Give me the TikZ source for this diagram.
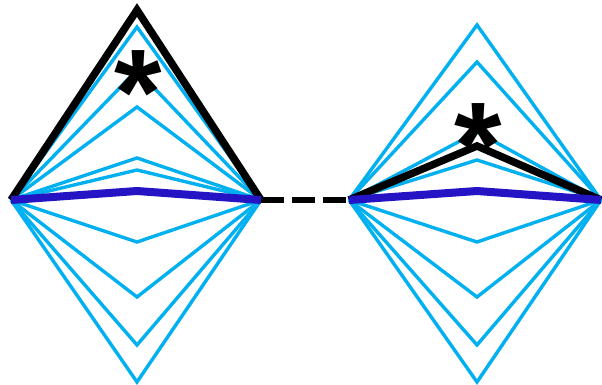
\documentclass[tikz,border=0pt]{standalone}
\usepackage{fontspec}
\setmainfont{Liberation Sans}
\definecolor{fanblue}{RGB}{0,176,240}
\definecolor{deepblue}{RGB}{36,20,196}
\begin{document}
\begin{tikzpicture}[
x=1pt, y=-1pt,
fanline/.style={draw=fanblue, line width=3.4pt},
bestline/.style={draw=black, line width=7.5pt},
flatline/.style={draw=deepblue, line width=8pt},
gapline/.style={draw=black, line width=6.5pt, dash pattern=on 23pt off 8pt},
starnode/.style={inner sep=0pt, anchor=north, font=\fontsize{122}{122}\selectfont\bfseries},
]
    \useasboundingbox (0,0) rectangle (602,385);
    \coordinate (aleft) at (11,200);
    \coordinate (aright) at (261,200);
    \coordinate (bleft) at (349,200);
    \coordinate (bright) at (601,200);
    % left fan
    \foreach \y in {27,70,107,158,170,242,297,345,382} {
        \coordinate (a\y) at (137,\y);
        \draw[fanline] (aleft) -- (a\y) -- (aright);
    }
    % right fan
    \foreach \y in {25,62,132,160,242,297,345,382} {
        \coordinate (b\y) at (477,\y);
        \draw[fanline] (bleft) -- (b\y) -- (bright);
    }
    \coordinate (atop) at (137,10);
    \coordinate (btop) at (477,146);
    \draw[bestline] (aleft) -- (atop) -- (aright);
    \draw[bestline] (bleft) -- (btop) -- (bright);
    \coordinate (aflat) at (137,191);
    \coordinate (bflat) at (477,191);
    \draw[flatline] (aleft) -- (aflat) -- (aright);
    \draw[flatline] (bleft) -- (bflat) -- (bright);
    \draw[gapline] (aright) -- (bleft);
    \node[starnode] (astar) at (138,50) {*};
    \node[starnode] (bstar) at (478,103) {*};
\end{tikzpicture}
\end{document}
